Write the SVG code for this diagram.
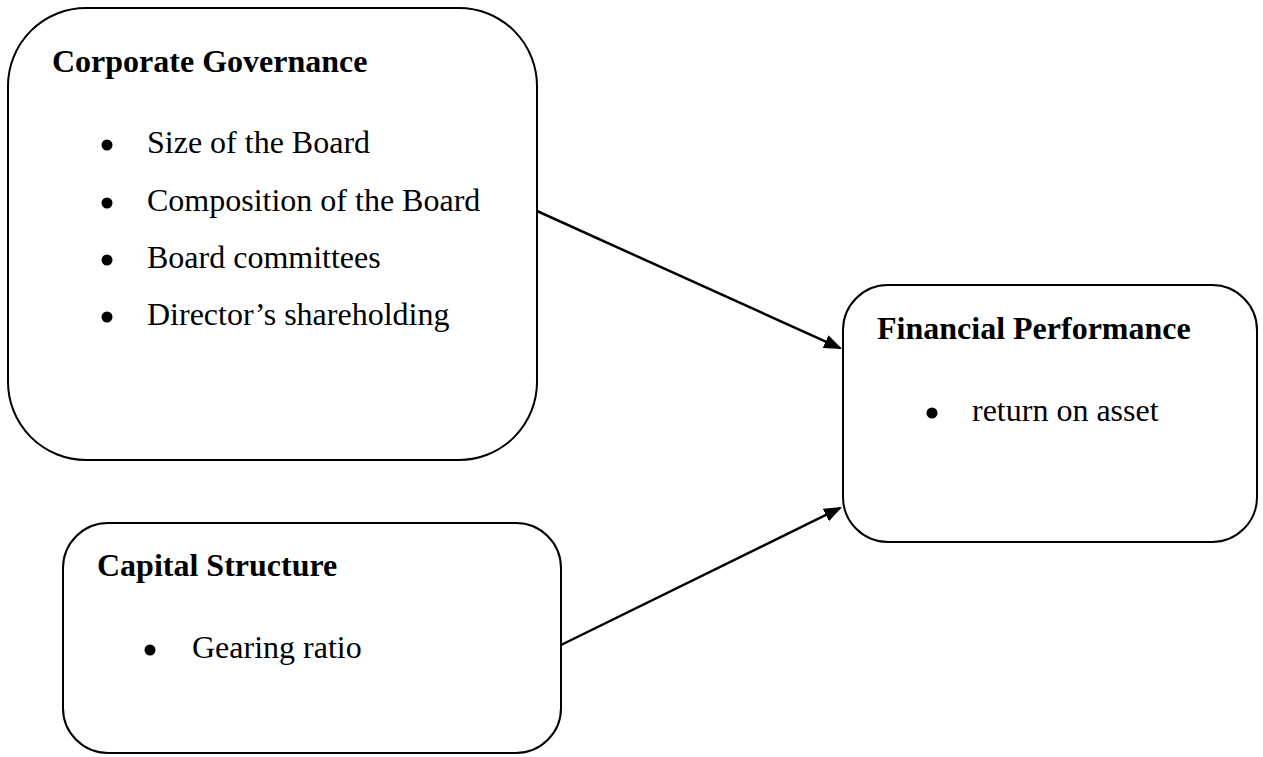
<svg xmlns="http://www.w3.org/2000/svg" width="1263" height="757" viewBox="0 0 1263 757">
<defs>
<style>
.box{fill:#fff;stroke:#000;stroke-width:2}
.t{font-family:"Liberation Serif","Times New Roman",serif;font-size:32px;fill:#000}
.b{font-weight:bold}
.dot{fill:#000}
.con{stroke:#000;stroke-width:2.5;fill:none}
</style>
<marker id="ah" viewBox="0 0 18 14" refX="16" refY="7" markerWidth="18" markerHeight="14" markerUnits="userSpaceOnUse" orient="auto">
<path d="M0,0 L18,7 L0,14 z" fill="#000"/>
</marker>
</defs>
<rect width="1263" height="757" fill="#fff"/>
<g id="corporate-governance">
<rect class="box" x="8" y="8" width="529" height="452" rx="78" ry="78"/>
<text class="t b" x="52" y="72">Corporate Governance</text>
<circle class="dot" cx="107" cy="145" r="5.5"/>
<text class="t" x="147" y="153">Size of the Board</text>
<circle class="dot" cx="107" cy="203" r="5.5"/>
<text class="t" x="147" y="211">Composition of the Board</text>
<circle class="dot" cx="107" cy="260" r="5.5"/>
<text class="t" x="147" y="268">Board committees</text>
<circle class="dot" cx="107" cy="317" r="5.5"/>
<text class="t" x="147" y="325">Director’s shareholding</text>
</g>
<g id="financial-performance">
<rect class="box" x="843" y="285" width="414" height="257" rx="45" ry="45"/>
<text class="t b" x="877" y="339">Financial Performance</text>
<circle class="dot" cx="932" cy="413" r="5.5"/>
<text class="t" x="972" y="421">return on asset</text>
</g>
<g id="capital-structure">
<rect class="box" x="63" y="523" width="498" height="230" rx="45" ry="45"/>
<text class="t b" x="97" y="576">Capital Structure</text>
<circle class="dot" cx="150" cy="650" r="5.5"/>
<text class="t" x="192" y="658">Gearing ratio</text>
</g>
<g id="connectors">
<line class="con" x1="537" y1="211" x2="840.2" y2="348.2" marker-end="url(#ah)"/>
<line class="con" x1="561" y1="645" x2="840.2" y2="507.9" marker-end="url(#ah)"/>
</g>
</svg>
